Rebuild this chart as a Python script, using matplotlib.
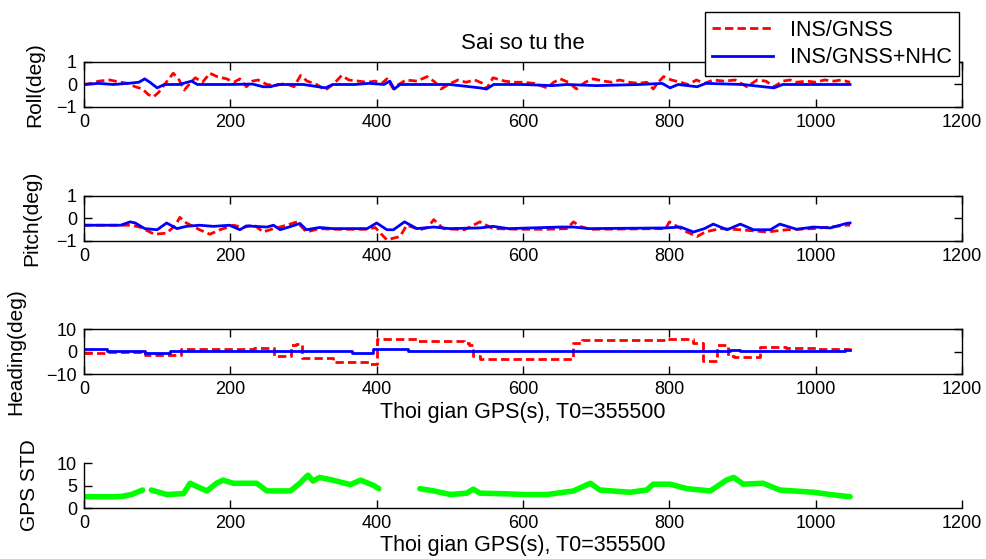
import numpy as np
import matplotlib
matplotlib.use("Agg")
import matplotlib.pyplot as plt

plt.rcParams['font.family'] = ['Liberation Sans', 'DejaVu Sans']

# ---- data (time in s since T0) ----
roll_red_t = [0, 10, 20, 35, 50, 60, 70, 80, 88, 95, 102, 110, 122, 130, 137, 145, 152, 162, 172, 182,
              195, 205, 213, 222, 230, 238, 250, 262, 275, 287, 296, 305, 318, 330, 342, 352, 362, 375,
              387, 398, 407, 414, 423, 430, 440, 455, 469, 480, 488, 498, 511, 522, 534, 545, 550, 559,
              575, 587, 600, 615, 633, 642, 651, 662, 673, 685, 696, 710, 722, 732, 745, 758, 769, 778,
              785, 792, 803, 815, 826, 837, 848, 860, 875, 890, 906, 920, 932, 943, 955, 965, 974, 988,
              1000, 1012, 1025, 1035, 1047]
roll_red = [0, 0.05, 0.15, 0.2, 0.1, 0.05, -0.1, -0.2, -0.45, -0.55, -0.35, 0.0, 0.5, 0.2, -0.25, 0.05,
            0.3, 0.1, 0.5, 0.35, 0.25, 0.1, 0.25, -0.1, 0.15, 0.2, 0.0, -0.05, 0.05, -0.1, 0.4, 0.15, 0.0,
            -0.25, 0.05, 0.4, 0.2, 0.15, 0.1, 0.15, 0.05, 0.25, -0.2, 0.0, 0.2, 0.15, 0.35, 0.1, -0.2, 0.0,
            0.2, 0.1, 0.2, 0.05, -0.2, 0.3, 0.15, 0.1, 0.1, 0.05, -0.15, 0.1, 0.25, 0.1, -0.2, 0.1, 0.25,
            0.15, 0.1, 0.2, 0.1, 0.05, 0.1, -0.2, 0.1, 0.35, 0.2, 0.1, 0.0, 0.2, 0.05, 0.2, 0.15, 0.2, -0.1,
            0.2, 0.15, -0.1, 0.15, 0.2, 0.1, 0.15, 0.1, 0.2, 0.15, 0.2, 0.1]

roll_blue_t = [0, 20, 40, 60, 75, 83, 90, 100, 110, 130, 147, 155, 200, 230, 245, 255, 265, 300, 330,
               340, 370, 390, 410, 418, 424, 432, 470, 500, 541, 550, 560, 600, 640, 660, 700, 760, 790,
               801, 812, 838, 850, 900, 943, 955, 1000, 1047]
roll_blue = [0, 0.05, 0.0, 0.05, 0.1, 0.25, 0.1, -0.15, 0.0, 0.0, 0.15, 0.0, 0.0, 0.02, -0.1, -0.1, 0.0,
             0.0, -0.15, 0.0, 0.0, 0.05, 0.0, 0.15, -0.2, 0.0, 0.0, 0.0, -0.15, -0.2, 0.0, 0.0, -0.05,
             0.0, -0.05, 0.0, 0.05, -0.15, 0.0, -0.1, 0.05, 0.0, -0.15, 0.0, 0.0, 0.0]

pitch_red_t = [0, 50, 65, 78, 96, 113, 125, 131, 140, 158, 172, 186, 204, 218, 232, 245, 259, 277, 291,
               304, 322, 340, 387, 398, 405, 414, 432, 441, 459, 470, 478, 491, 520, 541, 559, 596, 633,
               660, 669, 678, 692, 795, 800, 824, 838, 849, 869, 897, 933, 961, 997, 1042, 1047]
pitch_red = [-0.3, -0.3, -0.3, -0.4, -0.7, -0.65, -0.3, 0.05, -0.2, -0.5, -0.7, -0.5, -0.3, -0.4, -0.28,
             -0.6, -0.45, -0.3, -0.15, -0.6, -0.45, -0.48, -0.48, -0.4, -0.65, -0.95, -0.8, -0.3, -0.5,
             -0.4, -0.05, -0.45, -0.5, -0.15, -0.45, -0.48, -0.48, -0.45, -0.15, -0.35, -0.48, -0.45,
             -0.15, -0.6, -0.8, -0.6, -0.45, -0.5, -0.6, -0.5, -0.45, -0.3, -0.3]

pitch_blue_t = [0, 20, 50, 63, 70, 83, 100, 113, 127, 140, 158, 177, 199, 213, 222, 250, 259, 268, 286,
                295, 304, 322, 340, 387, 400, 414, 423, 438, 455, 478, 500, 541, 559, 580, 651, 669, 690,
                795, 815, 833, 848, 860, 879, 897, 915, 938, 951, 974, 997, 1020, 1042, 1047]
pitch_blue = [-0.3, -0.3, -0.3, -0.15, -0.2, -0.45, -0.5, -0.2, -0.45, -0.35, -0.3, -0.35, -0.3, -0.5,
              -0.33, -0.38, -0.3, -0.5, -0.32, -0.22, -0.5, -0.4, -0.45, -0.45, -0.2, -0.5, -0.5, -0.15,
              -0.45, -0.38, -0.45, -0.42, -0.35, -0.45, -0.38, -0.38, -0.45, -0.42, -0.38, -0.6, -0.45,
              -0.25, -0.5, -0.25, -0.5, -0.5, -0.25, -0.48, -0.38, -0.42, -0.22, -0.2]

head_red_t = [0, 30, 83, 133, 232, 260, 283, 290, 298, 340, 390, 400, 455, 520, 526, 532, 541, 669, 680,
              796, 833, 846, 865, 880, 888, 924, 960, 1000, 1047]
head_red = [-0.5, 0.0, -1.5, 1.0, 1.5, -2.0, 3.0, 3.5, -3.0, -4.5, -5.5, 5.5, 4.5, 4.0, 3.0, -2.0, -3.5,
            4.0, 5.0, 5.5, 4.0, -4.0, 3.0, -2.0, -2.5, 2.0, 1.5, 1.0, 0.8]

head_blue_t = [0, 31, 83, 118, 366, 395, 443, 883, 897, 1040, 1047]
head_blue = [1.0, 0.3, -0.7, 0.2, -0.7, 1.0, 0.2, 0.8, 0.2, 0.6, 0.6]

gps_t = [0, 20, 40, 52, 65, 80, 86, 92, 113, 136, 145, 158, 168, 181, 190, 204, 236, 250, 282, 295, 306,
         313, 322, 340, 364, 378, 396, 403, 430, 459, 478, 501, 523, 532, 541, 569, 601, 633, 669, 692,
         705, 746, 769, 778, 801, 824, 856, 878, 888, 901, 928, 951, 997, 1020, 1047]
gps_std = [2.5, 2.5, 2.5, 2.6, 3.0, 4.0, np.nan, 4.0, 3.0, 3.2, 5.5, 4.5, 3.8, 5.5, 6.2, 5.5, 5.5, 3.8,
           3.8, 5.5, 7.3, 6.0, 6.8, 6.2, 5.2, 6.2, 5.0, 4.3, np.nan, 4.3, 3.8, 3.0, 3.3, 4.2, 3.3, 3.2,
           3.0, 3.0, 3.8, 5.5, 4.0, 3.5, 4.0, 5.3, 5.3, 4.3, 3.8, 6.2, 6.8, 5.3, 5.5, 4.0, 3.5, 3.0, 2.5]

xlabel = 'Thoi gian GPS(s), T0=355500'
fs = 13

fig = plt.figure(figsize=(9.87, 5.59), dpi=100)
L, W, H = 0.0851, 0.8896, 0.0805
ax1 = fig.add_axes([L, 0.8086, W, H])
ax2 = fig.add_axes([L, 0.5689, W, H])
ax3 = fig.add_axes([L, 0.3309, W, H])
ax4 = fig.add_axes([L, 0.0912, W, H])

red_kw = dict(color=(1, 0, 0), lw=2, linestyle='--', dashes=(3, 1.5))
blue_kw = dict(color=(0, 0, 1), lw=2)

l1, = ax1.plot(roll_red_t, roll_red, label='INS/GNSS', **red_kw)
l2, = ax1.plot(roll_blue_t, roll_blue, label='INS/GNSS+NHC', **blue_kw)
ax2.plot(pitch_red_t, pitch_red, **red_kw)
ax2.plot(pitch_blue_t, pitch_blue, **blue_kw)
ax3.plot(head_red_t, head_red, drawstyle='steps-post', **red_kw)
ax3.plot(head_blue_t, head_blue, drawstyle='steps-post', **blue_kw)
ax4.plot(gps_t, gps_std, color=(0, 1, 0), lw=4, solid_capstyle='round')

panels = [(ax1, 'Roll(deg)', (-1, 1), 9), (ax2, 'Pitch(deg)', (-1, 1), 11),
          (ax3, 'Heading(deg)', (-10, 10), 15), (ax4, 'GPS STD', (0, 10), 13)]
for ax, lab, yl, lp in panels:
    ax.set_xlim(0, 1200)
    ax.set_ylim(*yl)
    ax.set_xticks(np.arange(0, 1201, 200))
    ax.set_yticks([yl[0], (yl[0] + yl[1]) / 2, yl[1]])
    ax.set_ylabel(lab, fontsize=15, labelpad=lp)
    ax.tick_params(direction='in', length=6, width=1, labelsize=fs, pad=5)
    for s in ax.spines.values():
        s.set_linewidth(1)

for ax in (ax1, ax2, ax3):
    ax.tick_params(top=True, right=True)

ax4.spines['top'].set_visible(False)
ax4.spines['right'].set_visible(False)

ax3.set_xlabel(xlabel, fontsize=15.5, labelpad=3)
ax4.set_xlabel(xlabel, fontsize=15.5, labelpad=2)
ax1.set_title('Sai so tu the', fontsize=16, pad=9)

fig.legend(handles=[l1, l2], loc='upper right', bbox_to_anchor=(0.972, 0.978),
           fontsize=15.5, fancybox=False, edgecolor='black', framealpha=1,
           handlelength=2.8, borderaxespad=0, borderpad=0.35, labelspacing=0.3)

fig.savefig('out.png', dpi=100)
